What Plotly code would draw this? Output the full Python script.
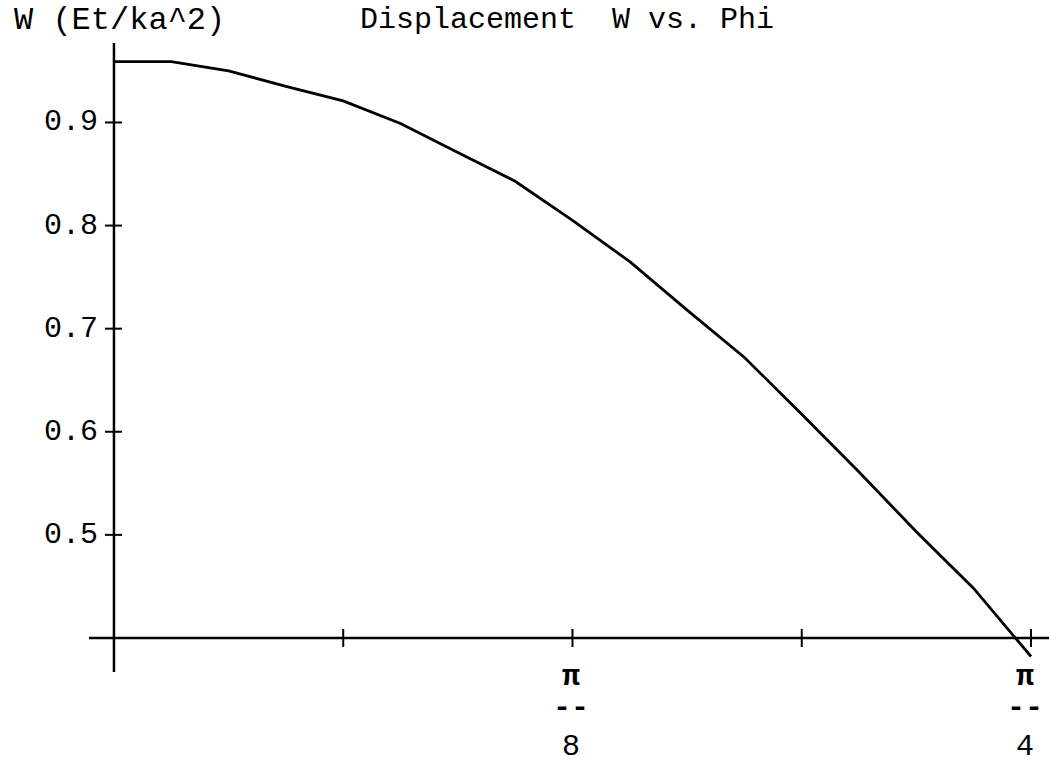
import plotly.graph_objects as go

# Displacement W (in units of Et/ka^2) sampled along the angle phi (radians)
phi = [0.0, 0.0491, 0.0982, 0.1473, 0.1963, 0.2454, 0.2945, 0.3436, 0.3927,
       0.4418, 0.4909, 0.5400, 0.5890, 0.6381, 0.6872, 0.7363, 0.7854]
w = [0.959, 0.959, 0.950, 0.935, 0.921, 0.899, 0.871, 0.843, 0.805,
     0.765, 0.718, 0.672, 0.617, 0.561, 0.503, 0.448, 0.382]

# Axis ticks
x_ticks = [0.0, 0.19635, 0.3927, 0.58905, 0.7854]
x_tick_labels = {0.3927: "8", 0.7854: "4"}
y_ticks = [0.5, 0.6, 0.7, 0.8, 0.9]
y_tick_labels = ["0.5", "0.6", "0.7", "0.8", "0.9"]

W_PX, H_PX = 1049, 766
FONT = "Liberation Mono, Courier New, monospace"
X_RANGE = [-0.0976, 0.8008]
Y_RANGE = [0.2758, 1.0188]
ORIGIN_Y = 0.4

fig = go.Figure()
fig.add_trace(go.Scatter(x=phi, y=w, mode="lines",
                         line=dict(color="black", width=2.8),
                         hoverinfo="skip", showlegend=False))

shapes = []
# axes
shapes.append(dict(type="line", xref="x", yref="y", x0=-0.0214, x1=X_RANGE[1],
                   y0=ORIGIN_Y, y1=ORIGIN_Y, line=dict(color="black", width=2.5)))
shapes.append(dict(type="line", xref="x", yref="y", x0=0, x1=0,
                   y0=0.367, y1=0.977, line=dict(color="black", width=2.5)))
# tick marks crossing the axes
for t in x_ticks:
    shapes.append(dict(type="line", xref="x", yref="y", x0=t, x1=t,
                       ysizemode="pixel", yanchor=ORIGIN_Y, y0=-9, y1=9,
                       line=dict(color="black", width=2)))
for t in y_ticks:
    shapes.append(dict(type="line", xref="x", yref="y", y0=t, y1=t,
                       xsizemode="pixel", xanchor=0, x0=-9, x1=8,
                       line=dict(color="black", width=2)))

annotations = []
tick_font = dict(family=FONT, size=30, color="black")
for t, lab in zip(y_ticks, y_tick_labels):
    annotations.append(dict(x=0, y=t, xref="x", yref="y", text=lab,
                            showarrow=False, xanchor="right", yanchor="middle",
                            xshift=-14, font=tick_font))
for t, den in x_tick_labels.items():
    shift = -6 if t > 0.6 else -1
    for txt, dy in (("<b>\u03c0</b>", -39), ("<b>--</b>", -70), (den, -109)):
        annotations.append(dict(x=t, y=ORIGIN_Y, xref="x", yref="y", text=txt,
                                showarrow=False, xanchor="center",
                                yanchor="middle", xshift=shift, yshift=dy,
                                font=tick_font))

# axis label and plot title on the top line
annotations.append(dict(x=12 / W_PX, y=1 - 20 / H_PX, xref="paper", yref="paper",
                        text="W (Et/ka^2)", showarrow=False, xanchor="left",
                        yanchor="middle",
                        font=dict(family=FONT, size=32, color="black")))
annotations.append(dict(x=358 / W_PX, y=1 - 20 / H_PX, xref="paper", yref="paper",
                        text="Displacement\u00a0\u00a0W vs. Phi", showarrow=False,
                        xanchor="left", yanchor="middle", font=tick_font))

fig.update_layout(
    width=W_PX, height=H_PX,
    margin=dict(l=0, r=0, t=0, b=0),
    paper_bgcolor="white", plot_bgcolor="white",
    xaxis=dict(range=X_RANGE, visible=False, domain=[0, 1]),
    yaxis=dict(range=Y_RANGE, visible=False, domain=[0, 1]),
    shapes=shapes, annotations=annotations,
)

fig.write_html("out.html")
